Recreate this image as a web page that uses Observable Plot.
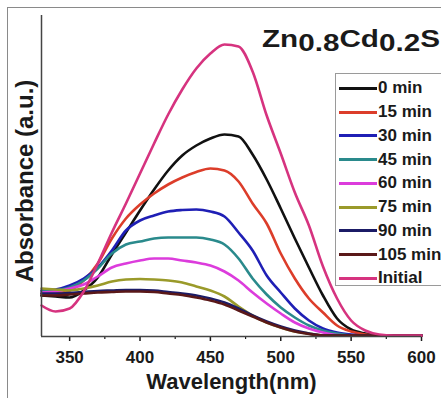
<!DOCTYPE html>
<html>
<head>
<meta charset="utf-8">
<script src="https://cdn.jsdelivr.net/npm/d3@7"></script>
<script src="https://cdn.jsdelivr.net/npm/@observablehq/plot@0.6"></script>
<style>
  html, body { margin: 0; padding: 0; background: #fff; }
  #wrap { position: relative; width: 441px; height: 398px; overflow: hidden; background: #fff;
          font-family: "Liberation Sans", Arial, sans-serif; color: #1a1a1a; }
  #border { position: absolute; left: 7px; top: 7px; right: -10px; bottom: -10px;
            border-left: 1.5px solid #8a8a8a; border-top: 1.5px solid #8a8a8a; pointer-events: none; }
  #legend { position: absolute; left: 335px; top: 73px; width: 140px; height: 213px; box-sizing: border-box;
            border: 1px solid #9a9a9a; background: #fff; padding-top: 2.4px; }
  .row { height: 23.75px; line-height: 23.75px; font-size: 17px; font-weight: bold; white-space: nowrap;
         display: flex; align-items: center; }
  .swatch { display: inline-block; width: 38px; height: 3px; margin-left: 3px; margin-right: 1px; }
</style>
</head>
<body>
<div id="wrap"><div id="border"></div></div>
<script>
// ---- data ----
const wavelengths = [330,340,350,360,370,380,390,400,410,420,430,440,450,460,470,480,490,500,510,520,530,540,550,560,570,580,590,600];
const seriesNames = ["0 min","15 min","30 min","45 min","60 min","75 min","90 min","105 min","Initial"];
const seriesColors = ["#111111","#dc3d2a","#1f1fb5","#2a8a8c","#dc3cdc","#9a9a2a","#1b1b66","#5a1818","#d6337f"];
const min0   = [.41,.40,.39,.46,.59,.82,1.04,1.26,1.47,1.66,1.81,1.91,1.98,2.02,2.00,1.82,1.57,1.28,.98,.69,.41,.18,.07,.03,.01,.01,.01,.01];
const min15  = [.43,.43,.46,.56,.73,.98,1.18,1.32,1.43,1.52,1.59,1.645,1.68,1.66,1.55,1.33,1.13,.83,.58,.38,.24,.11,.05,.02,.01,.01,.01,.01];
const min30  = [.46,.47,.51,.58,.69,.86,1.06,1.16,1.21,1.25,1.265,1.27,1.25,1.20,1.04,.86,.61,.44,.28,.16,.08,.04,.02,.01,.01,.01,.01,.01];
const min45  = [.45,.46,.49,.56,.68,.83,.92,.95,.98,.99,.99,.99,.97,.92,.78,.58,.42,.29,.19,.11,.06,.03,.01,.01,.01,.01,.01,.01];
const min60  = [.44,.45,.48,.52,.60,.69,.73,.76,.78,.78,.76,.74,.71,.65,.56,.44,.33,.23,.14,.08,.04,.015,.01,.01,.01,.01,.01,.01];
const min75  = [.48,.47,.46,.48,.51,.55,.57,.575,.57,.56,.54,.50,.46,.40,.30,.21,.14,.09,.05,.03,.01,.01,.01,.01,.01,.01,.01,.01];
const min90  = [.43,.43,.435,.445,.455,.46,.465,.465,.46,.445,.43,.41,.38,.34,.28,.21,.15,.10,.06,.03,.01,.01,.01,.01,.01,.01,.01,.01];
const min105 = [.41,.41,.42,.43,.44,.445,.45,.45,.445,.43,.415,.39,.36,.32,.26,.20,.14,.09,.05,.025,.01,.01,.01,.01,.01,.01,.01,.01];
const initial = [.31,.25,.28,.45,.73,1.04,1.33,1.63,1.93,2.22,2.47,2.68,2.83,2.92,2.90,2.65,2.21,1.83,1.44,1.11,.70,.38,.16,.06,.02,.01,.01,.01];
const xTicks = [350,400,450,500,550,600];
const xMinorTicks = [375,425,475,525,575];
const xLabel = "Wavelength(nm)";
const yLabel = "Absorbance (a.u.)";
const titleParts = [["Zn",0],["0.8",1],["Cd",0],["0.2",1],["S",0]];

const seriesValues = [min0, min15, min30, min45, min60, min75, min90, min105, initial];
const data = seriesNames.flatMap((name, s) =>
  wavelengths.map((w, i) => ({wavelength: w, absorbance: seriesValues[s][i], series: name})));

const font = "'Liberation Sans', Arial, sans-serif";
const plot = Plot.plot({
  width: 441, height: 398,
  marginLeft: 41, marginRight: 20, marginTop: 15, marginBottom: 62,
  style: {background: "transparent", fontFamily: font, color: "#1a1a1a", overflow: "visible"},
  x: {domain: [330, 600]},
  y: {domain: [0, 3.21]},
  color: {domain: seriesNames, range: seriesColors},
  marks: [
    Plot.axisX({ticks: xMinorTicks, tickSize: 3, text: null, label: null, strokeWidth: 1.2}),
    Plot.axisX({ticks: xTicks, tickSize: 5, tickPadding: 9, fontSize: 17, fontWeight: "bold", label: null, strokeWidth: 1.5}),
    Plot.axisY({ticks: [], label: null}),
    Plot.lineY(data, {x: "wavelength", y: "absorbance", stroke: "series", z: "series", curve: "monotone-x", strokeWidth: 2.6}),
    Plot.ruleY([0], {stroke: "#444", strokeWidth: 1.5}),
    Plot.ruleX([330], {stroke: "#444", strokeWidth: 1.5}),
    Plot.text([xLabel], {text: d => d, frameAnchor: "bottom", textAnchor: "middle", lineAnchor: "middle", dy: 45, fontSize: 22, fontWeight: "bold", fill: "#1a1a1a"}),
    Plot.text([yLabel], {text: d => d, frameAnchor: "left", rotate: -90, textAnchor: "middle", lineAnchor: "middle", dx: -16.5, dy: 5, fontSize: 24, fontWeight: "bold", fill: "#1a1a1a"})
  ]
});

// title with subscripts
const t = d3.select(plot).append("text")
  .attr("x", 262).attr("y", 47)
  .attr("text-anchor", "start")
  .attr("font-size", 24).attr("font-weight", "bold").attr("fill", "#1a1a1a")
  .attr("font-family", font)
  .attr("textLength", 178).attr("lengthAdjust", "spacingAndGlyphs");
let prev = 0;
for (const [s, sub] of titleParts) {
  t.append("tspan").attr("dy", (sub - prev) * 4).text(s);
  prev = sub;
}

const wrap = document.getElementById("wrap");
wrap.insertBefore(plot, wrap.firstChild);

// legend
const legend = document.createElement("div");
legend.id = "legend";
seriesNames.forEach((name, i) => {
  const row = document.createElement("div");
  row.className = "row";
  const sw = document.createElement("span");
  sw.className = "swatch";
  sw.style.background = seriesColors[i];
  const lab = document.createElement("span");
  lab.textContent = name;
  row.appendChild(sw); row.appendChild(lab);
  legend.appendChild(row);
});
wrap.appendChild(legend);
</script>
</body>
</html>
